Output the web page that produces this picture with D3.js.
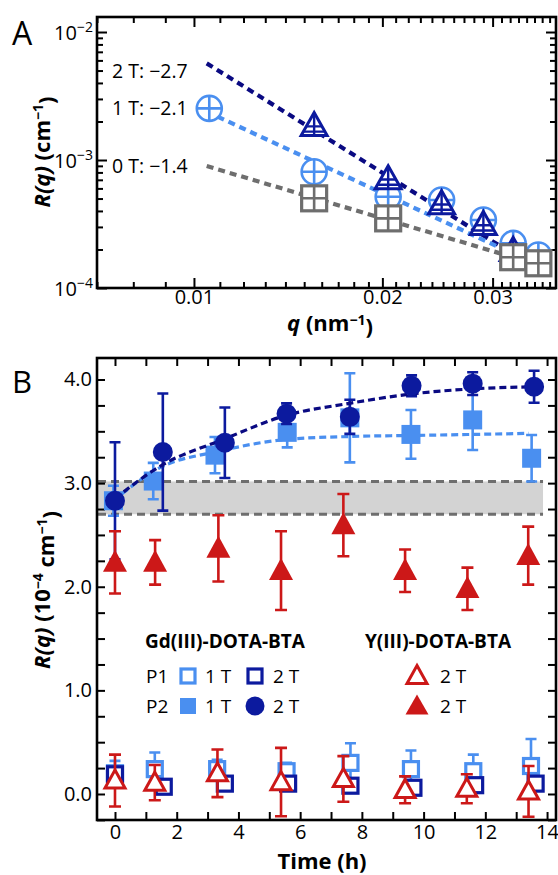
<!DOCTYPE html>
<html><head><meta charset="utf-8">
<script src="https://cdn.jsdelivr.net/npm/d3@7"></script>
<style>
body{margin:0;background:#fff}
svg{display:block}
text{font-family:"Open Sans",sans-serif;fill:#000}
</style>
</head><body>
<svg id="c" width="558" height="875"></svg>
<script>
// ---------- Panel A data ----------
const q1T = [0.01058, 0.01556, 0.02043, 0.02487, 0.0290, 0.03236, 0.0355];
const R1T = [2.53e-3, 8.1e-4, 5.16e-4, 4.87e-4, 3.40e-4, 2.23e-4, 1.81e-4];
const q2T = [0.01556, 0.02043, 0.02487, 0.0290, 0.03236];
const R2T = [1.87e-3, 7.19e-4, 4.59e-4, 3.16e-4, 1.98e-4];
const q0T = [0.01556, 0.02043, 0.03236, 0.0355];
const R0T = [5.02e-4, 3.50e-4, 1.74e-4, 1.56e-4];
const fit2Tq = [0.01048, 0.03483], fit2TR = [5.69e-3, 1.47e-4];
const fit1Tq = [0.01048, 0.0344],  fit1TR = [2.39e-3, 1.61e-4];
const fit0Tq = [0.01048, 0.0334],  fit0TR = [8.97e-4, 1.66e-4];
const fitLabels = ["2 T: \u22122.7", "1 T: \u22122.1", "0 T: \u22121.4"];
const qMajor = [0.01, 0.02, 0.03];
const qMajorLabels = ["0.01", "0.02", "0.03"];
const qMinor = [0.007,0.008,0.009,0.011,0.012,0.013,0.014,0.015,0.016,0.017,0.018,0.019,
  0.021,0.022,0.023,0.024,0.025,0.026,0.027,0.028,0.029,0.031,0.032,0.033,0.034,0.035,0.036,0.037];
const rMajor = [1e-4, 1e-3, 1e-2];
const rMajorExp = ["\u22124", "\u22123", "\u22122"];
const rMinor = [2e-4,3e-4,4e-4,5e-4,6e-4,7e-4,8e-4,9e-4,2e-3,3e-3,4e-3,5e-3,6e-3,7e-3,8e-3,9e-3];

// ---------- Panel B data ----------
const tP2_2T = [0.0, 1.55, 3.56, 5.56, 7.61, 9.61, 11.59, 13.58];
const vP2_2T = [2.83, 3.30, 3.39, 3.67, 3.64, 3.94, 3.96, 3.93];
const eP2_2T = [0.565, 0.565, 0.34, 0.10, 0.165, 0.10, 0.11, 0.155];
const tP2_1T = [-0.05, 1.24, 3.24, 5.58, 7.61, 9.59, 11.59, 13.50];
const vP2_1T = [2.83, 3.02, 3.27, 3.49, 3.63, 3.47, 3.61, 3.24];
const eP2_1T = [0.145, 0.175, 0.175, 0.145, 0.43, 0.235, 0.29, 0.225];
const tY_P2 = [0.0, 1.30, 3.35, 5.38, 7.40, 9.40, 11.42, 13.39];
const vY_P2 = [2.235, 2.235, 2.37, 2.155, 2.595, 2.155, 1.98, 2.30];
const eY_P2 = [0.30, 0.215, 0.32, 0.38, 0.30, 0.205, 0.205, 0.28];
const tP1_1T = [0.0, 1.29, 3.31, 5.56, 7.63, 9.59, 11.61, 13.48];
const vP1_1T = [0.20, 0.24, 0.24, 0.22, 0.30, 0.24, 0.22, 0.27];
const eP1_1T = [0.12, 0.16, 0.09, 0.08, 0.19, 0.18, 0.16, 0.26];
const tP1_2T = [0.0, 1.58, 3.56, 5.61, 7.63, 9.67, 11.67, 13.63];
const vP1_2T = [0.19, 0.07, 0.10, 0.10, 0.08, 0.06, 0.085, 0.10];
const eP1_2T = [0.06, 0.05, 0.05, 0.05, 0.05, 0.05, 0.05, 0.05];
const tY_P1 = [0.0, 1.29, 3.32, 5.38, 7.40, 9.40, 11.40, 13.40];
const vY_P1 = [0.13, 0.11, 0.20, 0.115, 0.145, 0.04, 0.05, 0.025];
const eY_P1 = [0.25, 0.17, 0.23, 0.33, 0.22, 0.13, 0.14, 0.245];
const fitDarkT = [0.0, 1.5, 3.5, 5.5, 7.6, 9.6, 11.6, 13.6];
const fitDarkV = [2.85, 3.17, 3.42, 3.65, 3.77, 3.86, 3.91, 3.93];
const fitLightT = [-0.05, 1.4, 3.4, 5.5, 7.6, 9.6, 11.6, 13.4];
const fitLightV = [2.83, 3.14, 3.31, 3.42, 3.45, 3.46, 3.47, 3.48];
const bandT = [-0.55, 13.87];
const bandV = [2.70, 3.016];
const timeTicks = [0,1,2,3,4,5,6,7,8,9,10,11,12,13,14];
const timeLabels = [0,2,4,6,8,10,12,14];
const vTicks = [-0.25,0,0.25,0.5,0.75,1,1.25,1.5,1.75,2,2.25,2.5,2.75,3,3.25,3.5,3.75,4];
const vLabels = [0,1,2,3,4];

// ---------- colours ----------
const C_DARK = "#0c1a9e", C_DARKLINE = "#0a0a82", C_LIGHT = "#4a8ff0",
      C_GRAY = "#6e6e6e", C_RED = "#cc1818", C_BAND = "#d3d3d3";
const FONT = '"Open Sans",sans-serif';

const svg = d3.select("#c");

// =============== PANEL A ===============
const L = 97, R = 556;
const aTop = 17, aBot = 288;
const xA = d3.scaleLog().domain([0.0070, 0.03788]).range([L, R]);
const yA = d3.scaleLog().domain([1e-4, 0.0131]).range([aBot, aTop]);
const gA = svg.append("g");

function tickAxes(g, xs, ys, xMaj, xMin, yMaj, yMin, top, bot, majLen, minLen) {
  const mk = (axisFn, scale, vals, len, tr) => {
    const a = g.append("g").attr("transform", tr)
      .call(axisFn(scale).tickValues(vals).tickSize(len).tickSizeOuter(0).tickFormat(""));
    a.select(".domain").remove();
    a.selectAll("line").attr("stroke", "#000").attr("stroke-width", 2);
  };
  mk(d3.axisBottom, xs, xMaj, -majLen, `translate(0,${bot})`);
  mk(d3.axisBottom, xs, xMin, -minLen, `translate(0,${bot})`);
  mk(d3.axisTop, xs, xMaj, -majLen, `translate(0,${top})`);
  mk(d3.axisTop, xs, xMin, -minLen, `translate(0,${top})`);
  mk(d3.axisLeft, ys, yMaj, -majLen, `translate(${L},0)`);
  mk(d3.axisLeft, ys, yMin, -minLen, `translate(${L},0)`);
  mk(d3.axisRight, ys, yMaj, -majLen, `translate(${R},0)`);
  mk(d3.axisRight, ys, yMin, -minLen, `translate(${R},0)`);
}
tickAxes(gA, xA, yA, qMajor, qMinor, rMajor, rMinor, aTop, aBot, 10, 6);

// x labels
const axA = gA.append("g").attr("transform", `translate(0,${aBot})`)
  .call(d3.axisBottom(xA).tickValues(qMajor).tickSize(0).tickPadding(2)
    .tickFormat((d, i) => qMajorLabels[i]));
axA.select(".domain").remove();
axA.selectAll("text").style("font-size", "20px").style("font-family", FONT).attr("fill", "#000");

// y labels with superscripts
const ayA = gA.append("g").attr("transform", `translate(${L},0)`)
  .call(d3.axisLeft(yA).tickValues(rMajor).tickSize(0).tickPadding(5).tickFormat(""));
ayA.select(".domain").remove();
ayA.selectAll(".tick").each(function(d, i) {
  const t = d3.select(this).append("text").attr("x", -4).attr("dy", "0.38em")
    .attr("text-anchor", "end").style("font-size", "20px").style("font-family", FONT);
  t.append("tspan").text("10");
  t.append("tspan").attr("dy", "-0.55em").style("font-size", "14px").text(rMajorExp[i]);
});

// fit lines
const fitsA = [
  {q: fit2Tq, r: fit2TR, c: C_DARKLINE},
  {q: fit1Tq, r: fit1TR, c: C_LIGHT},
  {q: fit0Tq, r: fit0TR, c: C_GRAY}
];
const lineA = d3.line().x(d => xA(d[0])).y(d => yA(d[1]));
fitsA.forEach(f => {
  gA.append("path").attr("d", lineA(f.q.map((q, i) => [q, f.r[i]])))
    .attr("fill", "none").attr("stroke", f.c).attr("stroke-width", 4.2)
    .attr("stroke-dasharray", "7,5");
});

// markers A
const sw = 2.6;
q1T.forEach((q, i) => {
  const g = gA.append("g").attr("transform", `translate(${xA(q)},${yA(R1T[i])})`);
  const r = 12.5;
  g.append("circle").attr("r", r).attr("fill", "#fff").attr("stroke", C_LIGHT).attr("stroke-width", sw);
  g.append("path").attr("d", `M${-r},0H${r}M0,${-r}V${r}`).attr("stroke", C_LIGHT).attr("stroke-width", sw);
});
q2T.forEach((q, i) => {
  const g = gA.append("g").attr("transform", `translate(${xA(q)},${yA(R2T[i])})`);
  const w = 26, h = 23;
  g.append("path").attr("d", `M0,${-h*0.55}L${w/2},${h*0.45}L${-w/2},${h*0.45}Z`)
    .attr("fill", "#fff").attr("stroke", C_DARK).attr("stroke-width", 3).attr("stroke-linejoin", "miter");
  g.append("path").attr("d", `M0,${-h*0.55}V${h*0.45}M${-w*0.3},${h*0.05}H${w*0.3}M${-w*0.42},${h*0.28}H${w*0.42}`)
    .attr("stroke", C_DARK).attr("stroke-width", 2.4);
});
q0T.forEach((q, i) => {
  const g = gA.append("g").attr("transform", `translate(${xA(q)},${yA(R0T[i])})`);
  const s = 25;
  g.append("rect").attr("x", -s/2).attr("y", -s/2).attr("width", s).attr("height", s)
    .attr("fill", "#fff").attr("stroke", C_GRAY).attr("stroke-width", 3.2);
  g.append("path").attr("d", `M${-s/2},0H${s/2}M0,${-s/2}V${s/2}`).attr("stroke", C_GRAY).attr("stroke-width", 2.6);
});

// frame A
gA.append("rect").attr("x", L).attr("y", aTop).attr("width", R - L).attr("height", aBot - aTop)
  .attr("fill", "none").attr("stroke", "#000").attr("stroke-width", 2.6);

// fit labels
const fitLabelY = [5.0e-3, 2.53e-3, 9.0e-4];
fitLabels.forEach((s, i) => {
  gA.append("text").attr("x", 112).attr("y", yA(fitLabelY[i])).attr("dy", "0.36em")
    .style("font-size", "19.5px").text(s);
});

// axis titles A
const tA = gA.append("text").attr("x", 330).attr("y", 331).attr("text-anchor", "middle")
  .style("font-size", "22px").style("font-weight", "700");
tA.append("tspan").style("font-style", "italic").text("q");
tA.append("tspan").text(" (nm");
tA.append("tspan").attr("dy", "-0.42em").style("font-size", "14px").text("\u22121");
tA.append("tspan").attr("dy", "0.42em").text(")");

const tyA = gA.append("text").attr("transform", "translate(50,152) rotate(-90)").attr("text-anchor", "middle")
  .style("font-size", "22px").style("font-weight", "700");
tyA.append("tspan").style("font-style", "italic").text("R(q)");
tyA.append("tspan").text(" (cm");
tyA.append("tspan").attr("dy", "-0.5em").style("font-size", "14px").text("\u22121");
tyA.append("tspan").attr("dy", "0.5em").text(")");

svg.append("text").attr("x", 12).attr("y", 45).style("font-size", "32px").text("A");

// =============== PANEL B ===============
const bTop = 358, bBot = 820;
const xB = d3.scaleLinear().domain([-0.583, 14.29]).range([L, R]);
const yB = d3.scaleLinear().domain([-0.251, 4.2075]).range([bBot, bTop]);
const gB = svg.append("g");

// band
gB.append("rect").attr("x", xB(bandT[0])).attr("y", yB(bandV[1]))
  .attr("width", xB(bandT[1]) - xB(bandT[0])).attr("height", yB(bandV[0]) - yB(bandV[1]))
  .attr("fill", C_BAND);
bandV.forEach(v => {
  gB.append("line").attr("x1", xB(bandT[0])).attr("x2", xB(bandT[1]))
    .attr("y1", yB(v)).attr("y2", yB(v)).attr("stroke", C_GRAY).attr("stroke-width", 3)
    .attr("stroke-dasharray", "8,5");
});

tickAxes(gB, xB, yB, timeTicks, [], vTicks, [], bTop, bBot, 8, 8);

const axB = gB.append("g").attr("transform", `translate(0,${bBot})`)
  .call(d3.axisBottom(xB).tickValues(timeLabels).tickSize(0).tickPadding(5).tickFormat(d3.format("d")));
axB.select(".domain").remove();
axB.selectAll("text").style("font-size", "20px").style("font-family", FONT).attr("fill", "#000");
const ayB = gB.append("g").attr("transform", `translate(${L},0)`)
  .call(d3.axisLeft(yB).tickValues(vLabels).tickSize(0).tickPadding(5).tickFormat(d3.format(".1f")));
ayB.select(".domain").remove();
ayB.selectAll("text").style("font-size", "20px").style("font-family", FONT).attr("fill", "#000");

function errBars(g, ts, vs, es, color, cap, w) {
  ts.forEach((t, i) => {
    const x = xB(t), y1 = yB(vs[i] + es[i]), y2 = yB(vs[i] - es[i]);
    g.append("path").attr("d", `M${x},${y1}V${y2}M${x-cap/2},${y1}H${x+cap/2}M${x-cap/2},${y2}H${x+cap/2}`)
      .attr("stroke", color).attr("stroke-width", w).attr("fill", "none");
  });
}
const triPath = (w, h) => `M0,${-h*0.58}L${w/2},${h*0.42}L${-w/2},${h*0.42}Z`;

// fit curves B
const lineB = d3.line().x(d => xB(d[0])).y(d => yB(d[1])).curve(d3.curveMonotoneX);
// light P2 1T
errBars(gB, tP2_1T, vP2_1T, eP2_1T, C_LIGHT, 11, 2.6);
gB.append("path").attr("d", lineB(fitLightT.map((t, i) => [t, fitLightV[i]])))
  .attr("fill", "none").attr("stroke", C_LIGHT).attr("stroke-width", 3.2).attr("stroke-dasharray", "7,4");
tP2_1T.forEach((t, i) => {
  const s = 19;
  gB.append("rect").attr("x", xB(t) - s/2).attr("y", yB(vP2_1T[i]) - s/2).attr("width", s).attr("height", s)
    .attr("fill", C_LIGHT);
});
// dark P2 2T
errBars(gB, tP2_2T, vP2_2T, eP2_2T, C_DARK, 11, 2.6);
gB.append("path").attr("d", lineB(fitDarkT.map((t, i) => [t, fitDarkV[i]])))
  .attr("fill", "none").attr("stroke", C_DARKLINE).attr("stroke-width", 3.2).attr("stroke-dasharray", "7,4");
tP2_2T.forEach((t, i) => {
  gB.append("circle").attr("cx", xB(t)).attr("cy", yB(vP2_2T[i])).attr("r", 10).attr("fill", C_DARK);
});
// red filled
errBars(gB, tY_P2, vY_P2, eY_P2, C_RED, 12, 2.6);
tY_P2.forEach((t, i) => {
  gB.append("path").attr("transform", `translate(${xB(t)},${yB(vY_P2[i])})`)
    .attr("d", triPath(24, 22)).attr("fill", C_RED);
});
// P1 bottom
errBars(gB, tP1_1T, vP1_1T, eP1_1T, C_LIGHT, 11, 2.6);
tP1_1T.forEach((t, i) => {
  const s = 15;
  gB.append("rect").attr("x", xB(t) - s/2).attr("y", yB(vP1_1T[i]) - s/2).attr("width", s).attr("height", s)
    .attr("fill", "#fff").attr("stroke", C_LIGHT).attr("stroke-width", 3.2);
});
errBars(gB, tP1_2T, vP1_2T, eP1_2T, C_DARK, 10, 2.6);
tP1_2T.forEach((t, i) => {
  const s = 15;
  gB.append("rect").attr("x", xB(t) - s/2).attr("y", yB(vP1_2T[i]) - s/2).attr("width", s).attr("height", s)
    .attr("fill", "#fff").attr("stroke", C_DARK).attr("stroke-width", 3.2);
});
errBars(gB, tY_P1, vY_P1, eY_P1, C_RED, 12, 2.6);
tY_P1.forEach((t, i) => {
  gB.append("path").attr("transform", `translate(${xB(t)},${yB(vY_P1[i])})`)
    .attr("d", triPath(20, 18)).attr("fill", "#fff").attr("stroke", C_RED).attr("stroke-width", 3);
});

// frame B
gB.append("rect").attr("x", L).attr("y", bTop).attr("width", R - L).attr("height", bBot - bTop)
  .attr("fill", "none").attr("stroke", "#000").attr("stroke-width", 2.6);

// legend
const lg = gB.append("g");
lg.append("text").attr("x", 225).attr("y", 648).attr("text-anchor", "middle")
  .style("font-size", "19px").style("font-weight", "700").text("Gd(III)-DOTA-BTA");
lg.append("text").attr("x", 438).attr("y", 648).attr("text-anchor", "middle")
  .style("font-size", "19px").style("font-weight", "700").text("Y(III)-DOTA-BTA");
const row1 = 676, row2 = 706;
[["P1", row1], ["P2", row2]].forEach(([s, y]) => {
  lg.append("text").attr("x", 146).attr("y", y).attr("dy", "0.36em").style("font-size", "19px").text(s);
  lg.append("text").attr("x", 205).attr("y", y).attr("dy", "0.36em").style("font-size", "19px").text("1 T");
  lg.append("text").attr("x", 273).attr("y", y).attr("dy", "0.36em").style("font-size", "19px").text("2 T");
  lg.append("text").attr("x", 440).attr("y", y).attr("dy", "0.36em").style("font-size", "19px").text("2 T");
});
lg.append("rect").attr("x", 188 - 7).attr("y", row1 - 7).attr("width", 14).attr("height", 14)
  .attr("fill", "#fff").attr("stroke", C_LIGHT).attr("stroke-width", 3.2);
lg.append("rect").attr("x", 255 - 7).attr("y", row1 - 7).attr("width", 14).attr("height", 14)
  .attr("fill", "#fff").attr("stroke", C_DARK).attr("stroke-width", 3.2);
lg.append("rect").attr("x", 188 - 8).attr("y", row2 - 8).attr("width", 16).attr("height", 16).attr("fill", C_LIGHT);
lg.append("circle").attr("cx", 255).attr("cy", row2).attr("r", 9.5).attr("fill", C_DARK);
lg.append("path").attr("transform", `translate(417,${row1})`).attr("d", triPath(20, 18))
  .attr("fill", "#fff").attr("stroke", C_RED).attr("stroke-width", 3);
lg.append("path").attr("transform", `translate(417,${row2})`).attr("d", triPath(23, 20)).attr("fill", C_RED);

// titles B
gB.append("text").attr("x", 322).attr("y", 869).attr("text-anchor", "middle")
  .style("font-size", "22px").style("font-weight", "700").text("Time (h)");
const tyB = gB.append("text").attr("transform", "translate(50,590) rotate(-90)").attr("text-anchor", "middle")
  .style("font-size", "22px").style("font-weight", "700");
tyB.append("tspan").style("font-style", "italic").text("R(q)");
tyB.append("tspan").text(" (10");
tyB.append("tspan").attr("dy", "-0.5em").style("font-size", "14px").text("\u22124");
tyB.append("tspan").attr("dy", "0.5em").text(" cm");
tyB.append("tspan").attr("dy", "-0.5em").style("font-size", "14px").text("\u22121");
tyB.append("tspan").attr("dy", "0.5em").text(")");

svg.append("text").attr("x", 12).attr("y", 393).style("font-size", "31px").text("B");
</script>
</body></html>
